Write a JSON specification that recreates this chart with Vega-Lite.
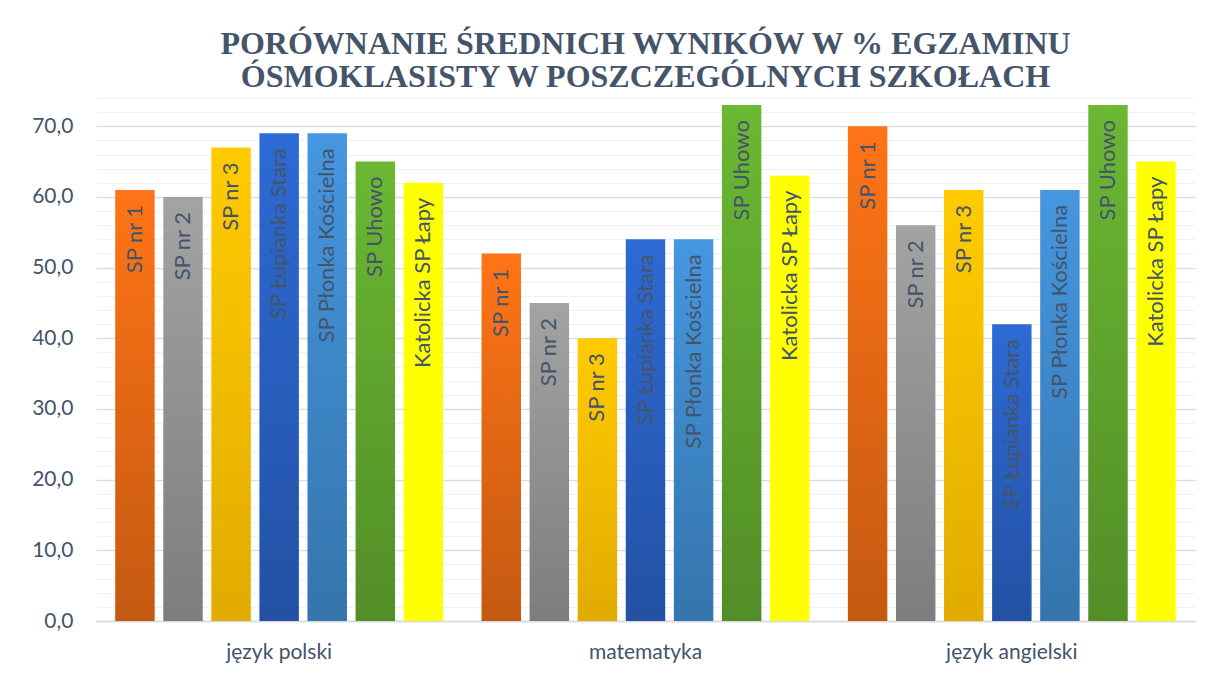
{
  "$schema": "https://vega.github.io/schema/vega-lite/v6.json",
  "autosize": "none",
  "width": 1099,
  "height": 523,
  "padding": {"left": 96, "top": 98, "right": 13, "bottom": 63},
  "background": "white",
  "title": {
    "text": ["PORÓWNANIE ŚREDNICH WYNIKÓW W % EGZAMINU", "ÓSMOKLASISTY W POSZCZEGÓLNYCH SZKOŁACH"],
    "font": "Liberation Serif",
    "fontSize": 32,
    "fontWeight": "bold",
    "lineHeight": 33,
    "color": "#44546A",
    "anchor": "middle",
    "frame": "group",
    "offset": 4
  },
  "data": {
    "values": [
      {"przedmiot": "język polski", "szkola": "SP nr 1", "wynik": 61},
      {"przedmiot": "język polski", "szkola": "SP nr 2", "wynik": 60},
      {"przedmiot": "język polski", "szkola": "SP nr 3", "wynik": 67},
      {"przedmiot": "język polski", "szkola": "SP Łupianka Stara", "wynik": 69},
      {"przedmiot": "język polski", "szkola": "SP Płonka Kościelna", "wynik": 69},
      {"przedmiot": "język polski", "szkola": "SP Uhowo", "wynik": 65},
      {"przedmiot": "język polski", "szkola": "Katolicka SP Łapy", "wynik": 62},
      {"przedmiot": "matematyka", "szkola": "SP nr 1", "wynik": 52},
      {"przedmiot": "matematyka", "szkola": "SP nr 2", "wynik": 45},
      {"przedmiot": "matematyka", "szkola": "SP nr 3", "wynik": 40},
      {"przedmiot": "matematyka", "szkola": "SP Łupianka Stara", "wynik": 54},
      {"przedmiot": "matematyka", "szkola": "SP Płonka Kościelna", "wynik": 54},
      {"przedmiot": "matematyka", "szkola": "SP Uhowo", "wynik": 73},
      {"przedmiot": "matematyka", "szkola": "Katolicka SP Łapy", "wynik": 63},
      {"przedmiot": "język angielski", "szkola": "SP nr 1", "wynik": 70},
      {"przedmiot": "język angielski", "szkola": "SP nr 2", "wynik": 56},
      {"przedmiot": "język angielski", "szkola": "SP nr 3", "wynik": 61},
      {"przedmiot": "język angielski", "szkola": "SP Łupianka Stara", "wynik": 42},
      {"przedmiot": "język angielski", "szkola": "SP Płonka Kościelna", "wynik": 61},
      {"przedmiot": "język angielski", "szkola": "SP Uhowo", "wynik": 73},
      {"przedmiot": "język angielski", "szkola": "Katolicka SP Łapy", "wynik": 65}
    ]
  },
  "encoding": {
    "x": {
      "field": "przedmiot",
      "type": "nominal",
      "sort": ["język polski", "matematyka", "język angielski"],
      "scale": {"paddingInner": 0, "paddingOuter": 0},
      "axis": {
        "title": null,
        "labelAngle": 0,
        "labelFont": "Lato",
        "labelFontSize": 21,
        "labelColor": "#44546A",
        "labelPadding": 20,
        "ticks": false,
        "domainColor": "#D9D9D9",
        "domainWidth": 1.5,
        "grid": false
      }
    },
    "xOffset": {
      "field": "szkola",
      "type": "nominal",
      "sort": ["SP nr 1", "SP nr 2", "SP nr 3", "SP Łupianka Stara", "SP Płonka Kościelna", "SP Uhowo", "Katolicka SP Łapy"],
      "scale": {"paddingInner": 0.18, "paddingOuter": 0.4}
    },
    "y": {
      "field": "wynik",
      "type": "quantitative",
      "scale": {"domain": [0, 74], "nice": false, "zero": true},
      "axis": {
        "title": null,
        "values": [0, 2, 4, 6, 8, 10, 12, 14, 16, 18, 20, 22, 24, 26, 28, 30, 32, 34, 36, 38, 40, 42, 44, 46, 48, 50, 52, 54, 56, 58, 60, 62, 64, 66, 68, 70, 72, 74],
        "labelExpr": "datum.value % 10 === 0 ? replace(format(datum.value, '.1f'), '.', ',') : ''",
        "labelFont": "Lato",
        "labelFontSize": 21,
        "labelColor": "#44546A",
        "labelPadding": 23,
        "ticks": false,
        "domain": false,
        "grid": true,
        "gridColor": {"condition": {"test": "datum.value % 10 === 0", "value": "#DADEE4"}, "value": "#EEF0F3"},
        "gridWidth": {"condition": {"test": "datum.value % 10 === 0", "value": 1.5}, "value": 1.2}
      }
    }
  },
  "layer": [
    {
      "mark": {"type": "bar"},
      "encoding": {
        "color": {
          "field": "szkola",
          "type": "nominal",
          "sort": ["SP nr 1", "SP nr 2", "SP nr 3", "SP Łupianka Stara", "SP Płonka Kościelna", "SP Uhowo", "Katolicka SP Łapy"],
          "scale": {"range": ["#FF7416", "#A3A3A3", "#FFCB00", "#2D6AD5", "#4597E0", "#6BB833", "#FFFF00"]},
          "legend": null
        }
      }
    },
    {
      "transform": [{"filter": "datum.szkola !== 'Katolicka SP Łapy' && datum.szkola !== 'SP nr 3'"}],
      "mark": {
        "type": "bar",
        "fill": {
          "gradient": "linear",
          "x1": 0, "y1": 0, "x2": 0, "y2": 1,
          "stops": [
            {"offset": 0, "color": "rgba(0,0,0,0)"},
            {"offset": 1, "color": "rgba(0,0,0,0.23)"}
          ]
        }
      }
    },
    {
      "transform": [{"filter": "datum.szkola === 'SP nr 3'"}],
      "mark": {
        "type": "bar",
        "fill": {
          "gradient": "linear",
          "x1": 0, "y1": 0, "x2": 0, "y2": 1,
          "stops": [
            {"offset": 0, "color": "rgba(120,60,0,0)"},
            {"offset": 1, "color": "rgba(120,60,0,0.22)"}
          ]
        }
      }
    },
    {
      "mark": {
        "type": "text",
        "angle": 270,
        "align": "right",
        "baseline": "middle",
        "dx": -15,
        "font": "Lato",
        "fontSize": 22,
        "color": "#44546A"
      },
      "encoding": {"text": {"field": "szkola", "type": "nominal"}}
    }
  ],
  "config": {"view": {"stroke": null}}
}
